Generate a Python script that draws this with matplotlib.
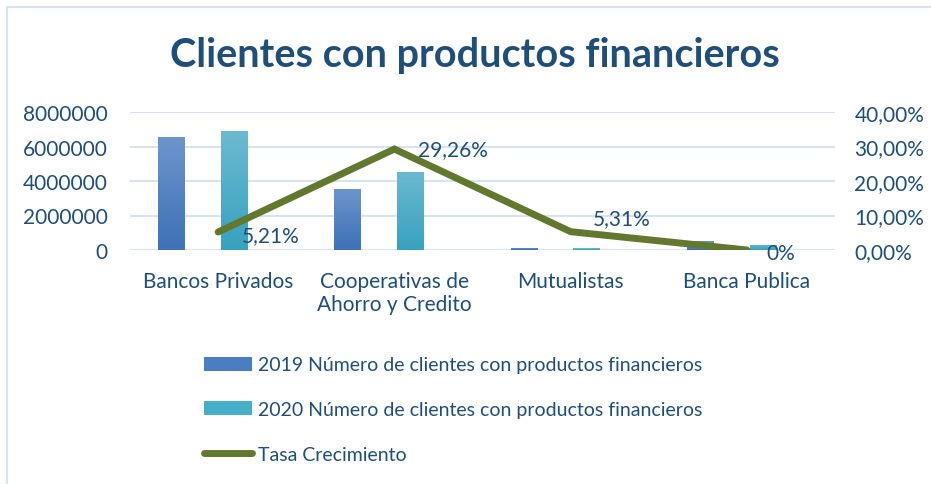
import matplotlib.pyplot as plt
import numpy as np
from matplotlib.colors import LinearSegmentedColormap
from matplotlib.lines import Line2D
from matplotlib.patches import Patch, Rectangle
from matplotlib.ticker import FuncFormatter

categories = ["Bancos Privados", "Cooperativas de\nAhorro y Credito", "Mutualistas", "Banca Publica"]
clients_2019 = [6530000, 3540000, 120000, 500000]
clients_2020 = [6900000, 4540000, 100000, 300000]
growth_rate = [5.21, 29.26, 5.31, 0.0]
growth_labels = ["5,21%", "29,26%", "5,31%", "0%"]
label_offsets = [(17, -2), (17, 0), (16, 10), (14, -2)]

TEXT = "#1F4E79"
C2019 = "#4A7DC2"
C2020 = "#48AFCB"
CLINE = "#63782F"
GRID = "#D6E3F3"

plt.rcParams["font.family"] = ["Lato", "DejaVu Sans"]

fig = plt.figure(figsize=(9.31, 4.85), dpi=100)
ax = fig.add_axes([130 / 931, 1 - 251 / 485, 705 / 931, 138 / 485])
ax2 = ax.twinx()

# bars sit slightly left of the category centre, as in the Excel original
x = np.arange(len(categories))
w = 0.148
bars19 = ax.bar(x - 0.267, clients_2019, w, color=C2019, zorder=2)
bars20 = ax.bar(x + 0.09, clients_2020, w, color=C2020, zorder=2)
ax.set_xlim(-0.5, len(categories) - 0.5)
ax.set_ylim(0, 8000000)

# soft vertical gradient like the Office style
grad = np.linspace(1, 0, 64).reshape(-1, 1)
for bars, top, bottom in ((bars19, "#6C95CB", "#3F71B8"), (bars20, "#6CB9D1", "#37A2BF")):
    cmap = LinearSegmentedColormap.from_list("g", [bottom, top])
    for b in bars:
        x0, h = b.get_x(), b.get_height()
        im = ax.imshow(grad, cmap=cmap, aspect="auto", extent=(x0, x0 + w, 0, h), zorder=2.1)
        im.set_clip_path(b)
ax.set_xlim(-0.5, len(categories) - 0.5)
ax.set_ylim(0, 8000000)

ax.set_yticks(range(0, 8000001, 2000000))
ax.yaxis.set_major_formatter(FuncFormatter(lambda v, p: f"{int(v)}"))
ax.grid(axis="y", color=GRID, linewidth=1.5, zorder=0)
ax.set_axisbelow(True)
ax.set_xticks(x)
ax.set_xticklabels(categories)

ax2.plot(x, growth_rate, color=CLINE, linewidth=5, solid_capstyle="round", solid_joinstyle="miter", zorder=3)
ax2.set_ylim(0, 40)
ax2.set_yticks(range(0, 41, 10))
ax2.yaxis.set_major_formatter(FuncFormatter(lambda v, p: f"{v:.2f}%".replace(".", ",")))
for xi, yi, lab, off in zip(x, growth_rate, growth_labels, label_offsets):
    ax2.annotate(lab, (xi, yi), xytext=off, textcoords="offset points",
                 ha="left", va="center", fontsize=15, color=TEXT)

for a in (ax, ax2):
    for s in a.spines.values():
        s.set_visible(False)
ax.tick_params(axis="y", length=0, pad=16, labelsize=15, labelcolor=TEXT)
ax.tick_params(axis="x", length=0, pad=15, labelsize=15, labelcolor=TEXT)
ax2.tick_params(axis="y", length=0, pad=14, labelsize=15, labelcolor=TEXT)

fig.text(475 / 931, 1 - 55 / 485, "Clientes con productos financieros", ha="center", va="center",
         fontsize=28.5, fontweight="bold", color=TEXT)

handles = [
    Patch(facecolor=C2019, label="2019 Número de clientes con productos financieros"),
    Patch(facecolor=C2020, label="2020 Número de clientes con productos financieros"),
    Line2D([0], [0], color=CLINE, linewidth=5, solid_capstyle="round", label="Tasa Crecimiento"),
]
leg = fig.legend(handles=handles, loc="upper left", bbox_to_anchor=(186 / 931, 1 - 340 / 485),
                 frameon=False, fontsize=14, labelspacing=1.42, handlelength=2.5,
                 handleheight=0.75, handletextpad=0.3)
for t in leg.get_texts():
    t.set_color(TEXT)

fig.patches.append(Rectangle((7 / 931, -0.1), 1.2, 1 - 8 / 485 + 0.1, transform=fig.transFigure,
                             fill=False, edgecolor=GRID, linewidth=1.5))

fig.savefig("out.png", dpi=100)
